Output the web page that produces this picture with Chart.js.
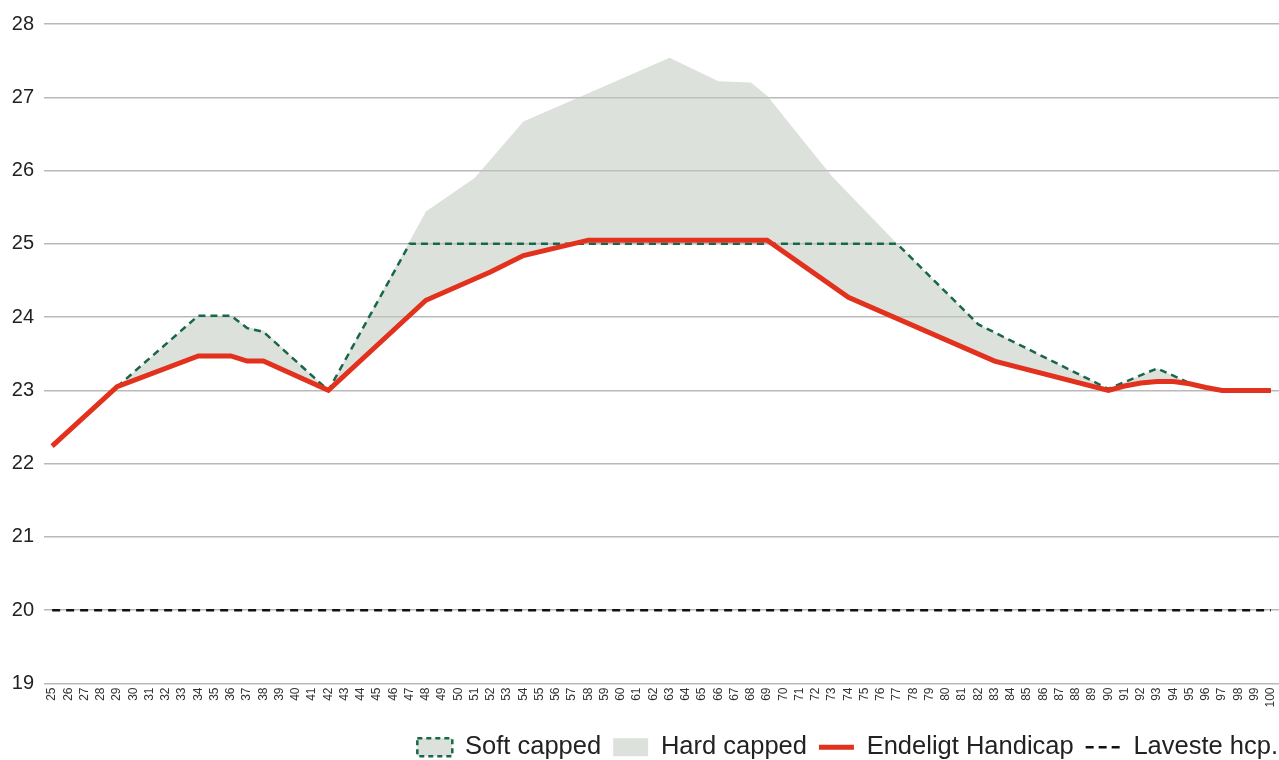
<!DOCTYPE html>
<html>
<head>
<meta charset="utf-8">
<script src="https://cdn.jsdelivr.net/npm/chart.js@4/dist/chart.umd.min.js"></script>
<style>
html,body{margin:0;padding:0;background:#fff;}
#wrap{width:1279px;height:760px;position:relative;}
</style>
</head>
<body>
<div id="wrap"><canvas id="c"></canvas></div>
<script>
// Category labels (ages)
const ages = [25,26,27,28,29,30,31,32,33,34,35,36,37,38,39,40,41,42,43,44,45,46,47,48,49,50,
  51,52,53,54,55,56,57,58,59,60,61,62,63,64,65,66,67,68,69,70,71,72,73,74,75,76,77,78,79,80,
  81,82,83,84,85,86,87,88,89,90,91,92,93,94,95,96,97,98,99,100];

// Soft capped (dashed green)
const softAges   = [29, 34, 36, 37, 38, 42, 47, 77, 82, 90, 93, 95, 96, 97, 100];
const softValues = [23.05, 24.02, 24.02, 23.85, 23.80, 23.00, 25.00, 25.00, 23.90, 23.02, 23.30, 23.10, 23.04, 23.00, 23.00];

// Hard capped (grey area, upper edge)
const hardAges   = [29, 34, 36, 37, 38, 42, 48, 51, 54, 63, 66, 68, 69, 73, 77, 82, 90, 93, 95, 96, 97];
const hardValues = [23.05, 24.02, 24.02, 23.86, 23.82, 23.00, 25.44, 25.90, 26.67, 27.54, 27.22, 27.20, 27.02, 25.92, 25.00, 23.90, 23.02, 23.30, 23.10, 23.04, 23.00];

// Endeligt Handicap (red)
const finalAges   = [25, 29, 34, 36, 37, 38, 42, 48, 52, 54, 58, 69, 74, 83, 90, 91, 92, 93, 94, 95, 96, 97, 100];
const finalValues = [22.24, 23.05, 23.47, 23.47, 23.40, 23.40, 23.00, 24.23, 24.62, 24.84, 25.05, 25.05, 24.27, 23.40, 23.00, 23.06, 23.10, 23.12, 23.12, 23.09, 23.04, 23.00, 23.00];

// Laveste hcp. (black dashed)
const lowestAges   = [25, 100];
const lowestValues = [20, 20];

const pts = (a, v) => a.map((x, i) => ({x: x, y: v[i]}));

const GREY = 'rgba(193,200,191,0.55)';
const GREEN = '#17674a';
const RED = '#e2311d';

Chart.defaults.font.family = "'Liberation Sans', Arial, Helvetica, sans-serif";
Chart.defaults.color = '#222';

new Chart(document.getElementById('c'), {
  type: 'line',
  data: {
    labels: ages,
    datasets: [
      {
        label: 'Soft capped',
        data: pts(softAges, softValues),
        borderColor: GREEN, borderWidth: 2.5, borderDash: [7, 5],
        backgroundColor: GREY, fill: false, pointRadius: 0, order: 1,
        legendStyle: 'rect', legendLineWidth: 2.5, legendDash: [5, 4]
      },
      {
        label: 'Hard capped',
        data: pts(hardAges, hardValues),
        borderColor: 'rgba(0,0,0,0)', borderWidth: 0,
        backgroundColor: GREY, fill: 2, pointRadius: 0, order: 2,
        legendStyle: 'rect', legendLineWidth: 0, legendDash: []
      },
      {
        label: 'Endeligt Handicap',
        data: pts(finalAges, finalValues),
        borderColor: RED, borderWidth: 5,
        backgroundColor: RED, fill: false, pointRadius: 0, order: 0,
        legendStyle: 'line', legendLineWidth: 5, legendDash: []
      },
      {
        label: 'Laveste hcp.',
        data: pts(lowestAges, lowestValues),
        borderColor: '#111', borderWidth: 2.5, borderDash: [8, 6],
        backgroundColor: '#111', fill: false, pointRadius: 0, order: 0,
        legendStyle: 'line', legendLineWidth: 2.5, legendDash: [8, 5]
      }
    ]
  },
  options: {
    responsive: true,
    maintainAspectRatio: false,
    animation: false,
    layout: { padding: { left: 10, right: -11, top: 24, bottom: -10 } },
    plugins: {
      tooltip: { enabled: false },
      legend: {
        position: 'bottom',
        align: 'end',
        labels: {
          usePointStyle: true,
          pointStyleWidth: 35,
          boxHeight: 18,
          padding: 12,
          color: '#222',
          font: { size: 25.5 },
          generateLabels: (chart) => chart.data.datasets.map((ds, i) => ({
            text: ds.label,
            fillStyle: ds.legendStyle === 'rect' ? GREY : 'rgba(0,0,0,0)',
            strokeStyle: ds.borderColor,
            lineWidth: ds.legendLineWidth,
            lineDash: ds.legendDash,
            pointStyle: ds.legendStyle,
            fontColor: '#222',
            hidden: false,
            datasetIndex: i
          }))
        }
      }
    },
    scales: {
      x: {
        type: 'category',
        offset: true,
        grid: { display: false, drawTicks: false },
        border: { display: false },
        ticks: { autoSkip: false, maxRotation: 90, minRotation: 90, padding: 4, color: '#333', font: { size: 12 } },
        afterFit: (s) => { s.height = 39; s.paddingRight = 0; s.paddingLeft = 0; }
      },
      y: {
        min: 19, max: 28,
        grid: { color: '#b9b9b9', lineWidth: 1.5, drawTicks: false },
        border: { display: false },
        ticks: { stepSize: 1, padding: 10, color: '#222', font: { size: 20 } },
        afterFit: (s) => { s.width = 34; }
      }
    }
  }
});
</script>
</body>
</html>
